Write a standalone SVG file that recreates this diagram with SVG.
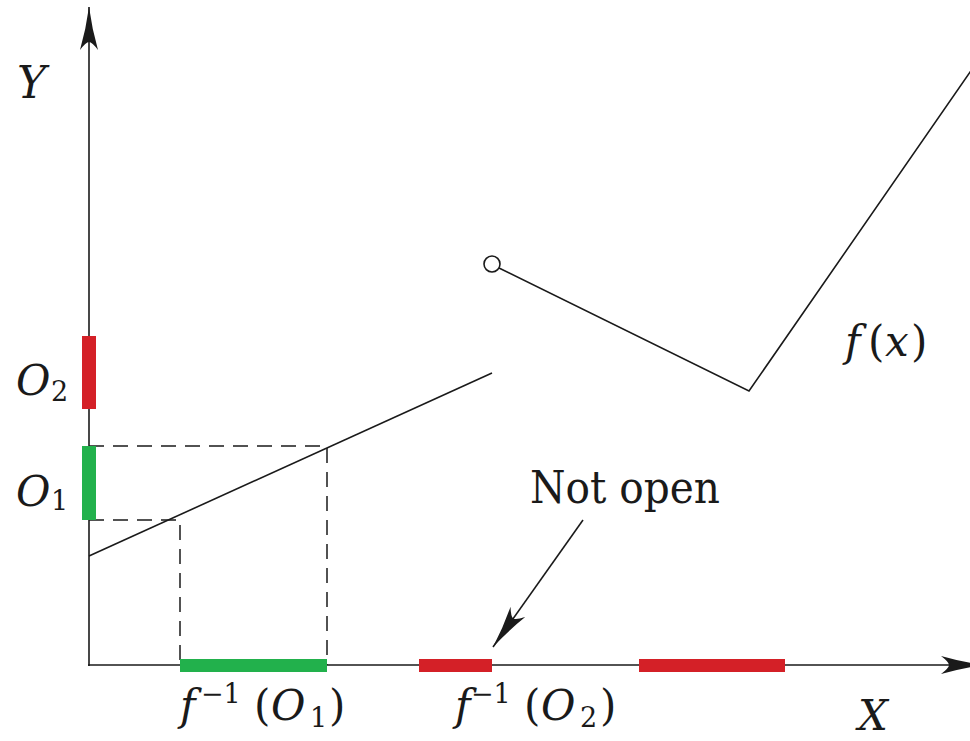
<svg xmlns="http://www.w3.org/2000/svg" width="970" height="741" viewBox="0 0 970 741">
<style>
.ln{stroke:#1a1a1a;stroke-width:1.6;fill:none}
.dash{stroke:#1a1a1a;stroke-width:1.5;fill:none;stroke-dasharray:15 9}
.red{fill:#d42027}
.green{fill:#22b14c}
.mi{font-style:italic;fill:#1a1a1a}
.rm{font-style:normal;fill:#1a1a1a}
</style>
<defs>
<marker id="ah" viewBox="-46 -12 48 24" refX="0" refY="0" markerUnits="userSpaceOnUse" markerWidth="48" markerHeight="24" orient="auto">
<path d="M0,0 Q-22,-3 -43,-9 Q-35,-3 -35,0 Q-35,3 -43,9 Q-22,3 0,0 Z" fill="#1a1a1a"/>
</marker>
</defs>
<g id="connectors">
<line id="y-axis" class="ln" x1="89" y1="666" x2="89" y2="7" marker-end="url(#ah)"/>
<line id="x-axis" class="ln" x1="88" y1="665" x2="984" y2="665" marker-end="url(#ah)"/>
<line id="not-open-arrow" class="ln" x1="583" y1="520" x2="493" y2="647" marker-end="url(#ah)"/>
<path class="dash" d="M89,446 H327 V665"/>
<path class="dash" d="M89,520 H180 V665"/>
</g>
<g id="graph">
<line class="ln" x1="89" y1="556" x2="492" y2="373"/>
<polyline class="ln" points="499,268 749,391 975,65"/>
<circle cx="492" cy="264" r="8" fill="#fff" stroke="#1a1a1a" stroke-width="1.6"/>
</g>
<g id="O2-bar"><rect class="red" x="82" y="336" width="14" height="73"/></g>
<g id="O1-bar"><rect class="green" x="82" y="446" width="14" height="74"/></g>
<g id="preimage-O1"><rect class="green" x="180" y="659" width="147" height="13"/></g>
<g id="preimage-O2a"><rect class="red" x="419" y="659" width="73" height="13"/></g>
<g id="preimage-O2b"><rect class="red" x="639" y="659" width="146" height="13"/></g>
<g id="labels" font-family="'DejaVu Serif', 'Liberation Serif', serif">
<text class="mi" x="17" y="98" font-size="44">Y</text>
<text class="mi" x="858" y="730" font-size="42">X</text>
<text x="16" y="395" font-size="42"><tspan class="mi">O</tspan><tspan class="rm" x="51" y="401" font-size="27">2</tspan></text>
<text x="16" y="506" font-size="42"><tspan class="mi">O</tspan><tspan class="rm" x="51" y="510" font-size="27">1</tspan></text>
<text x="180" y="720" font-size="42"><tspan class="mi">f</tspan><tspan class="rm" x="201" y="703" font-size="27">−1</tspan><tspan class="rm" x="254" y="720">(</tspan><tspan class="mi" x="271">O</tspan><tspan class="rm" x="310" y="727" font-size="27">1</tspan><tspan class="rm" x="329" y="720">)</tspan></text>
<text x="455" y="720" font-size="42"><tspan class="mi">f</tspan><tspan class="rm" x="471" y="703" font-size="27">−1</tspan><tspan class="rm" x="524" y="720">(</tspan><tspan class="mi" x="541">O</tspan><tspan class="rm" x="580" y="727" font-size="27">2</tspan><tspan class="rm" x="600" y="720">)</tspan></text>
<text x="845" y="356" font-size="42"><tspan class="mi">f</tspan><tspan class="rm" x="868">(</tspan><tspan class="mi" x="885">x</tspan><tspan class="rm" x="911">)</tspan></text>
<text class="rm" x="530" y="503" font-size="44" textLength="190" lengthAdjust="spacingAndGlyphs">Not open</text>
</g>
</svg>
